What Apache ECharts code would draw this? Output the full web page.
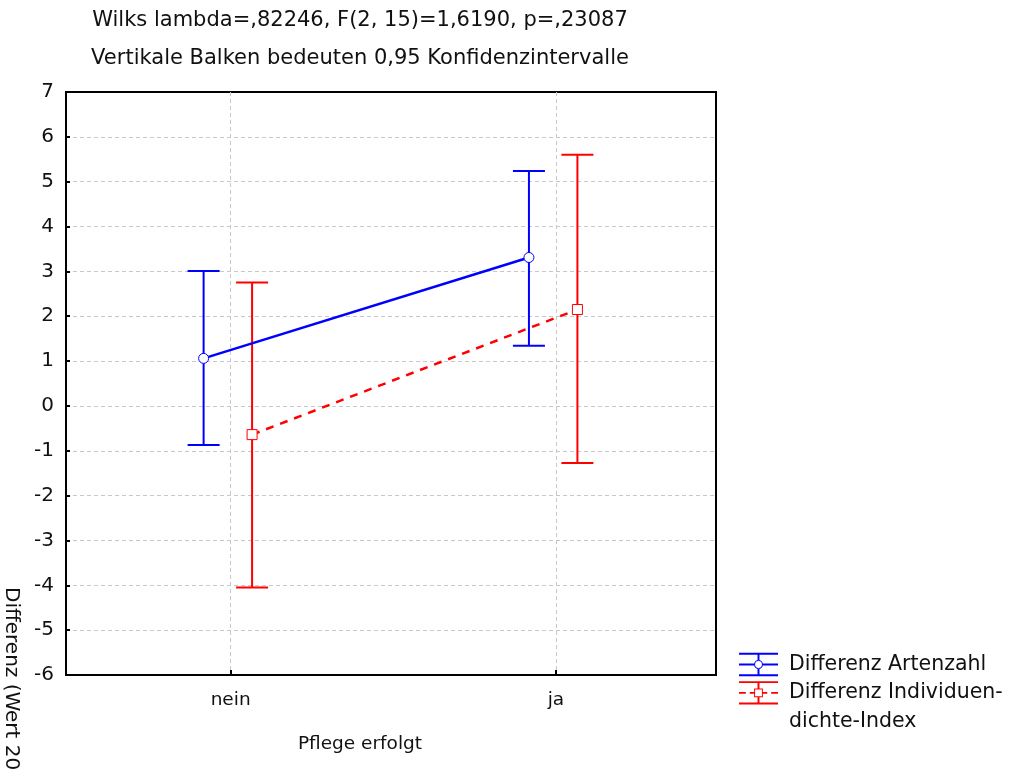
<!DOCTYPE html>
<html>
<head>
<meta charset="utf-8">
<script src="https://cdn.jsdelivr.net/npm/echarts@6/dist/echarts.min.js"></script>
<style>
html, body { margin: 0; padding: 0; background: #fff; }
#chart { width: 1010px; height: 772px; }
</style>
</head>
<body>
<div id="chart"></div>
<script>
// Werte
var categories = ['nein', 'ja'];
var artenMean = [1.06, 3.31];
var artenLow = [-0.87, 1.34];
var artenHigh = [3.01, 5.24];
var individMean = [-0.64, 2.15];
var individLow = [-4.05, -1.27];
var individHigh = [2.75, 5.60];

var nameArten = 'Differenz Artenzahl';
var nameIndivid = 'Differenz Individuen-\ndichte-Index';

var chartDiv = document.getElementById('chart');
var myChart = echarts.init(chartDiv);

var font = 'DejaVu Sans';
var blue = '#0000ff';
var red = '#ff0000';
var shiftArten = -0.083;
var shiftIndivid = 0.066;
var capHalf = 16;

var barData = function (low, high, shift) {
    return categories.map(function (c, i) {
        return [i + shift, low[i], high[i]];
    });
};
var meanData = function (mean, shift) {
    return categories.map(function (c, i) {
        return [i + shift, mean[i]];
    });
};

var renderBar = function (params, api) {
    var x = api.value(0);
    var top = api.coord([x, api.value(2)]);
    var bottom = api.coord([x, api.value(1)]);
    var style = { stroke: api.visual('color'), lineWidth: 2 };
    return {
        type: 'group',
        children: [
            { type: 'line', shape: { x1: top[0], y1: top[1], x2: bottom[0], y2: bottom[1] }, style: style },
            { type: 'line', shape: { x1: top[0] - capHalf, y1: top[1], x2: top[0] + capHalf, y2: top[1] }, style: style },
            { type: 'line', shape: { x1: bottom[0] - capHalf, y1: bottom[1], x2: bottom[0] + capHalf, y2: bottom[1] }, style: style }
        ]
    };
};

// Legendensymbole: Fehlerbalken mit Linie und Marker
var iconArten = 'path://M0 0H40V2H0Z M0 22H40V24H0Z M19 2H21V7.6H19Z M19 16.4H21V22H19Z ' +
    'M0 11H15.4V13H0Z M24.6 11H40V13H24.6Z ' +
    'M24.6 12A4.6 4.6 0 1 0 15.4 12A4.6 4.6 0 1 0 24.6 12Z M23.5 12A3.5 3.5 0 1 1 16.5 12A3.5 3.5 0 1 1 23.5 12Z';
// zweizeiliger Eintrag: Symbol oben, unsichtbarer Punkt unten verlaengert die Box
var iconIndivid = 'path://M0 0H40V2H0Z M0 22H40V24H0Z M19 2H21V7.5H19Z M19 16.5H21V22H19Z ' +
    'M0 11H7V13H0Z M11 11H15.5V13H11Z M24.5 11H29V13H24.5Z M33 11H40V13H33Z ' +
    'M15.5 7.5H24.5V16.5H15.5Z M16.5 8.5V15.5H23.5V8.5Z M20 52.99H20.01V53H20Z';

var legendText = {
    fontFamily: font,
    fontSize: 20.5,
    color: '#111',
    lineHeight: 29,
    padding: [0, 0, 0, 6]
};

var option = {
    animation: false,
    backgroundColor: '#fff',
    title: {
        text: 'Wilks lambda=,82246, F(2, 15)=1,6190, p=,23087\nVertikale Balken bedeuten 0,95 Konfidenzintervalle',
        left: 360,
        top: 2,
        padding: 0,
        textAlign: 'center',
        textStyle: {
            fontFamily: font,
            fontSize: 21,
            fontWeight: 'normal',
            color: '#111',
            lineHeight: 38
        }
    },
    grid: {
        show: true,
        left: 66,
        right: 294,
        top: 92,
        bottom: 97,
        borderColor: '#000',
        borderWidth: 2
    },
    legend: [{
        orient: 'vertical',
        left: 739,
        top: 650,
        padding: 0,
        itemWidth: 39,
        itemHeight: 24,
        selectedMode: false,
        itemStyle: { borderWidth: 0 },
        textStyle: legendText,
        data: [{ name: nameArten, icon: iconArten }]
    },
    {
        orient: 'vertical',
        left: 739,
        top: 678,
        padding: 0,
        itemWidth: 39,
        itemHeight: 53,
        selectedMode: false,
        itemStyle: { borderWidth: 0 },
        textStyle: legendText,
        data: [{ name: nameIndivid, icon: iconIndivid }]
    }],
    xAxis: {
        type: 'value',
        min: -0.506,
        max: 1.492,
        name: 'Pflege erfolgt',
        nameLocation: 'middle',
        nameGap: 60,
        nameTextStyle: {
            fontFamily: font,
            fontSize: 18.5,
            color: '#111',
            padding: [0, 62, 0, 0]
        },
        axisLine: { show: true, onZero: false, lineStyle: { color: '#000', width: 2 } },
        axisTick: {
            show: true,
            inside: true,
            length: 5,
            customValues: [0, 1],
            lineStyle: { color: '#000', width: 2 }
        },
        axisLabel: {
            customValues: [0, 1],
            margin: 16,
            fontFamily: font,
            fontSize: 18.5,
            color: '#111',
            formatter: function (v) {
                return categories[Math.round(v)];
            }
        },
        splitLine: {
            show: true,
            lineStyle: { color: '#c8c8c8', type: [4, 3], width: 1 }
        }
    },
    yAxis: {
        type: 'value',
        min: -6,
        max: 7,
        interval: 1,
        axisLine: { show: true, onZero: false, lineStyle: { color: '#000', width: 2 } },
        axisTick: {
            show: true,
            inside: true,
            length: 4,
            lineStyle: { color: '#000', width: 2 }
        },
        axisLabel: {
            margin: 12,
            fontFamily: font,
            fontSize: 20,
            color: '#111'
        },
        splitLine: {
            show: true,
            showMinLine: false,
            showMaxLine: false,
            lineStyle: { color: '#c8c8c8', type: [4, 3], width: 1 }
        }
    },
    graphic: [{
        type: 'text',
        x: 11,
        y: 587,
        rotation: -Math.PI / 2,
        style: {
            text: 'Differenz (Wert 20',
            font: '20px "DejaVu Sans"',
            fill: '#111',
            align: 'left',
            verticalAlign: 'middle'
        }
    }],
    series: [{
        name: nameArten,
        type: 'custom',
        renderItem: renderBar,
        itemStyle: { color: blue },
        encode: { x: 0, y: [1, 2] },
        data: barData(artenLow, artenHigh, shiftArten),
        z: 2
    },
    {
        name: nameIndivid,
        type: 'custom',
        renderItem: renderBar,
        itemStyle: { color: red },
        encode: { x: 0, y: [1, 2] },
        data: barData(individLow, individHigh, shiftIndivid),
        z: 2
    },
    {
        name: 'Mittelwert Artenzahl',
        type: 'line',
        data: meanData(artenMean, shiftArten),
        symbol: 'circle',
        symbolSize: 10,
        lineStyle: { color: blue, width: 2.5 },
        itemStyle: { color: '#fff', borderColor: blue, borderWidth: 1 },
        z: 3
    },
    {
        name: 'Mittelwert Individuendichte',
        type: 'line',
        data: meanData(individMean, shiftIndivid),
        symbol: 'rect',
        symbolSize: 10,
        lineStyle: { color: red, width: 2.5, type: [8, 7] },
        itemStyle: { color: '#fff', borderColor: red, borderWidth: 1 },
        z: 3
    }]
};

myChart.setOption(option);
</script>
</body>
</html>
